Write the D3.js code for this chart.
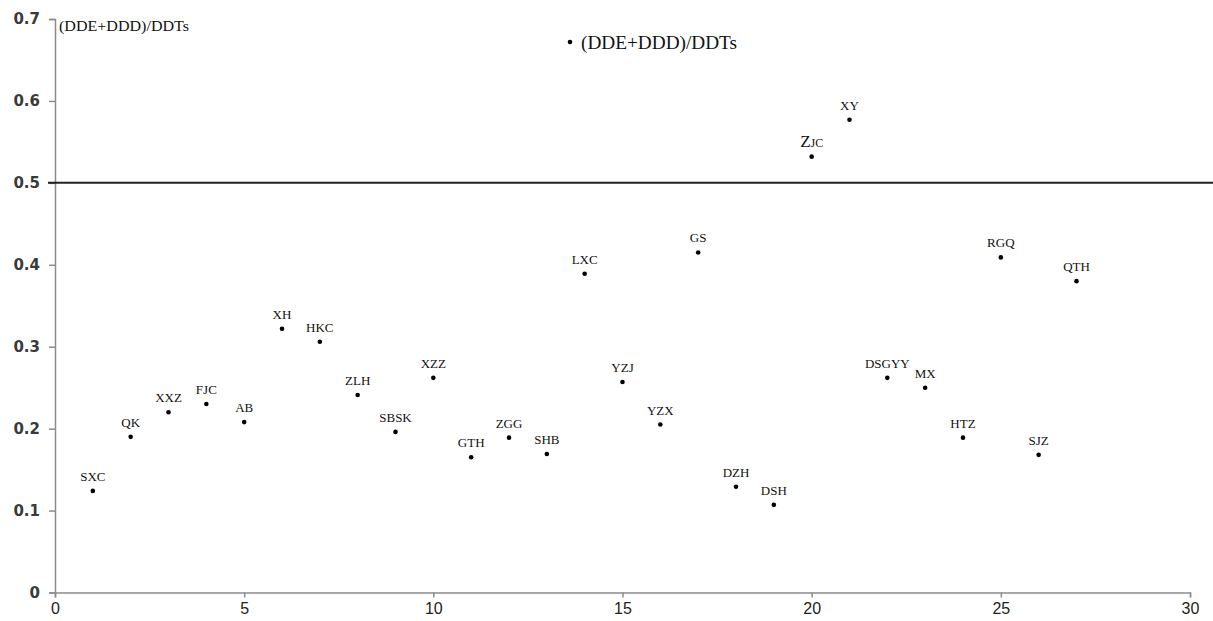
<!DOCTYPE html>
<meta charset="utf-8">
<style>
body { margin: 0; background: #fff; }
.axis path, .axis line { stroke: #8c8c8c; stroke-width: 1.5px; }
.y.axis text { font-family: "DejaVu Sans", sans-serif; font-size: 15px; font-weight: bold; fill: #3a3a3a; }
.x.axis text { font-family: "Liberation Sans", Arial, sans-serif; font-size: 16px; fill: #222; }
.lbl { font-family: "Liberation Serif", "Times New Roman", serif; font-size: 13px; fill: #111; }
</style>
<svg width="1213" height="621"></svg>
<script src="https://d3js.org/d3.v7.min.js"></script>
<script>

// sample order (x) and ratio values (y)
var sites = ["SXC","QK","XXZ","FJC","AB","XH","HKC","ZLH","SBSK","XZZ","GTH","ZGG","SHB","LXC",
             "YZJ","YZX","GS","DZH","DSH","ZJC","XY","DSGYY","MX","HTZ","RGQ","SJZ","QTH"];
var xs = d3.range(1, 28);
var ratio = [0.124,0.190,0.220,0.230,0.208,0.322,0.306,0.241,0.196,0.262,0.165,0.189,0.169,0.389,
             0.257,0.205,0.415,0.129,0.107,0.532,0.577,0.262,0.250,0.189,0.409,0.168,0.380];
var xTicks = [0,5,10,15,20,25,30];
var yTicks = [0,0.1,0.2,0.3,0.4,0.5,0.6,0.7];
var refLine = 0.5;
var seriesName = "(DDE+DDD)/DDTs";

var svg = d3.select("svg");
var x = d3.scaleLinear().domain([0, 30]).range([55, 1190]);
var y = d3.scaleLinear().domain([0, 0.7]).range([592.5, 19]);

svg.append("g")
    .attr("class", "x axis")
    .attr("transform", "translate(0," + y(0) + ")")
    .call(d3.axisBottom(x).tickValues(xTicks).tickSize(5).tickSizeOuter(5).tickPadding(5).tickFormat(d3.format("d")));

svg.append("g")
    .attr("class", "y axis")
    .attr("transform", "translate(" + x(0) + ",0)")
    .call(d3.axisLeft(y).tickValues(yTicks).tickSize(6).tickSizeOuter(6).tickPadding(9)
      .tickFormat(function(d) { return d === 0 ? "0" : d3.format(".1f")(d); }));

// 0.5 reference line
svg.append("line")
    .attr("x1", 48).attr("x2", 1213)
    .attr("y1", y(refLine)).attr("y2", y(refLine))
    .attr("stroke", "#222").attr("stroke-width", 2);

// points
svg.append("g").selectAll("circle")
    .data(xs)
    .enter().append("circle")
    .attr("cx", function(d) { return x(d); })
    .attr("cy", function(d, i) { return y(ratio[i]); })
    .attr("r", 2.3)
    .attr("fill", "#000");

// labels
var lbl = svg.append("g").selectAll("text")
    .data(xs)
    .enter().append("text")
    .attr("class", "lbl")
    .attr("x", function(d) { return x(d); })
    .attr("y", function(d, i) { return y(ratio[i]) - 10; })
    .attr("text-anchor", "middle");

lbl.each(function(d, i) {
  var t = d3.select(this);
  if (sites[i] === "ZJC") {
    t.append("tspan").style("font-size", "17px").text("Z");
    t.append("tspan").style("font-size", "12px").text("JC");
  } else {
    t.text(sites[i]);
  }
});

// axis title at top-left
svg.append("text")
    .attr("class", "lbl")
    .attr("x", 59).attr("y", 31)
    .style("font-size", "14px")
    .attr("textLength", 130)
    .attr("lengthAdjust", "spacingAndGlyphs")
    .text(seriesName);

// legend
svg.append("circle").attr("cx", 570).attr("cy", 42).attr("r", 2.3).attr("fill", "#000");
svg.append("text")
    .attr("class", "lbl")
    .attr("x", 581).attr("y", 49)
    .style("font-size", "18px")
    .attr("textLength", 156)
    .attr("lengthAdjust", "spacingAndGlyphs")
    .text(seriesName);

</script>
